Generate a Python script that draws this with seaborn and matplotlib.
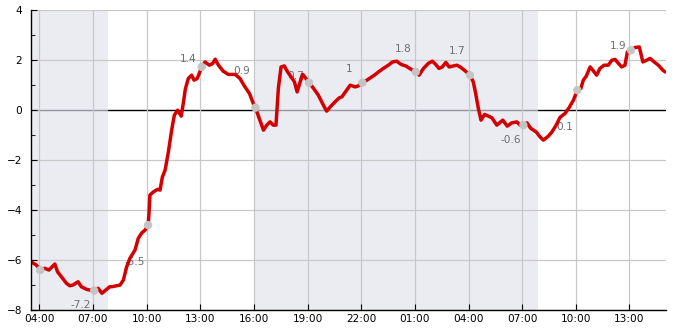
import matplotlib
matplotlib.use("Agg")
import matplotlib.pyplot as plt
import matplotlib.dates as mdates
from matplotlib.ticker import MultipleLocator
import seaborn as sns
import pandas as pd

# ---- data ----
times = [
    "2024-03-01 03:32", "2024-03-01 03:50", "2024-03-01 04:03", "2024-03-01 04:18", "2024-03-01 04:32",
    "2024-03-01 04:38", "2024-03-01 04:52", "2024-03-01 05:01", "2024-03-01 05:14", "2024-03-01 05:31",
    "2024-03-01 05:42", "2024-03-01 05:53", "2024-03-01 06:10", "2024-03-01 06:21", "2024-03-01 06:38",
    "2024-03-01 06:49", "2024-03-01 07:04", "2024-03-01 07:17", "2024-03-01 07:30", "2024-03-01 07:40",
    "2024-03-01 07:56", "2024-03-01 08:03", "2024-03-01 08:31", "2024-03-01 08:42", "2024-03-01 08:53",
    "2024-03-01 09:04", "2024-03-01 09:21", "2024-03-01 09:32", "2024-03-01 09:44", "2024-03-01 09:55",
    "2024-03-01 10:05", "2024-03-01 10:08", "2024-03-01 10:11", "2024-03-01 10:23", "2024-03-01 10:37",
    "2024-03-01 10:45", "2024-03-01 10:53", "2024-03-01 11:02", "2024-03-01 11:13", "2024-03-01 11:24",
    "2024-03-01 11:33", "2024-03-01 11:44", "2024-03-01 11:56", "2024-03-01 12:03", "2024-03-01 12:10",
    "2024-03-01 12:20", "2024-03-01 12:31", "2024-03-01 12:39", "2024-03-01 12:50", "2024-03-01 13:05",
    "2024-03-01 13:16", "2024-03-01 13:30", "2024-03-01 13:42", "2024-03-01 13:50", "2024-03-01 14:01",
    "2024-03-01 14:17", "2024-03-01 14:34", "2024-03-01 14:57", "2024-03-01 15:13", "2024-03-01 15:30",
    "2024-03-01 15:45", "2024-03-01 16:00", "2024-03-01 16:05", "2024-03-01 16:22", "2024-03-01 16:32",
    "2024-03-01 16:43", "2024-03-01 16:54", "2024-03-01 17:05", "2024-03-01 17:14", "2024-03-01 17:22",
    "2024-03-01 17:31", "2024-03-01 17:42", "2024-03-01 17:53", "2024-03-01 18:05", "2024-03-01 18:16",
    "2024-03-01 18:25", "2024-03-01 18:35", "2024-03-01 18:44", "2024-03-01 18:54", "2024-03-01 19:05",
    "2024-03-01 19:19", "2024-03-01 19:36", "2024-03-01 19:53", "2024-03-01 20:04", "2024-03-01 20:19",
    "2024-03-01 20:32", "2024-03-01 20:46", "2024-03-01 20:55", "2024-03-01 21:11", "2024-03-01 21:23",
    "2024-03-01 21:40", "2024-03-01 21:50", "2024-03-01 22:04", "2024-03-01 22:19", "2024-03-01 22:30",
    "2024-03-01 22:44", "2024-03-01 22:58", "2024-03-01 23:14", "2024-03-01 23:31", "2024-03-01 23:45",
    "2024-03-01 23:59", "2024-03-02 00:14", "2024-03-02 00:29", "2024-03-02 00:47", "2024-03-02 01:03",
    "2024-03-02 01:14", "2024-03-02 01:29", "2024-03-02 01:45", "2024-03-02 01:59", "2024-03-02 02:10",
    "2024-03-02 02:21", "2024-03-02 02:32", "2024-03-02 02:44", "2024-03-02 02:55", "2024-03-02 03:09",
    "2024-03-02 03:21", "2024-03-02 03:32", "2024-03-02 03:46", "2024-03-02 04:05", "2024-03-02 04:16",
    "2024-03-02 04:24", "2024-03-02 04:33", "2024-03-02 04:42", "2024-03-02 04:54", "2024-03-02 05:18",
    "2024-03-02 05:35", "2024-03-02 05:55", "2024-03-02 06:10", "2024-03-02 06:25", "2024-03-02 06:42",
    "2024-03-02 06:53", "2024-03-02 07:04", "2024-03-02 07:16", "2024-03-02 07:29", "2024-03-02 07:47",
    "2024-03-02 08:00", "2024-03-02 08:11", "2024-03-02 08:28", "2024-03-02 08:40", "2024-03-02 08:54",
    "2024-03-02 09:07", "2024-03-02 09:24", "2024-03-02 09:38", "2024-03-02 09:52", "2024-03-02 10:05",
    "2024-03-02 10:17", "2024-03-02 10:25", "2024-03-02 10:35", "2024-03-02 10:48", "2024-03-02 10:57",
    "2024-03-02 11:10", "2024-03-02 11:21", "2024-03-02 11:35", "2024-03-02 11:49", "2024-03-02 12:01",
    "2024-03-02 12:12", "2024-03-02 12:23", "2024-03-02 12:34", "2024-03-02 12:45", "2024-03-02 12:53",
    "2024-03-02 13:05", "2024-03-02 13:19", "2024-03-02 13:33", "2024-03-02 13:45", "2024-03-02 13:58",
    "2024-03-02 14:09", "2024-03-02 14:23", "2024-03-02 14:37", "2024-03-02 14:52", "2024-03-02 15:00",
]
values = [
    -6.07, -6.2, -6.4, -6.33, -6.4,
    -6.33, -6.16, -6.47, -6.67, -6.93,
    -7.03, -7.0, -6.87, -7.07, -7.17,
    -7.2, -7.22, -7.13, -7.33, -7.23,
    -7.07, -7.07, -7.0, -6.8, -6.27,
    -5.93, -5.6, -5.13, -4.91, -4.8,
    -4.6, -4.13, -3.4, -3.27, -3.17,
    -3.2, -2.67, -2.4, -1.67, -0.8,
    -0.2, 0.0, -0.24, 0.27, 0.85,
    1.27, 1.4, 1.2, 1.27, 1.73,
    1.93, 1.8, 1.87, 2.04, 1.8,
    1.56, 1.43, 1.43, 1.27, 0.93,
    0.67, 0.2, 0.1, -0.47, -0.8,
    -0.6, -0.47, -0.6, -0.6, 0.87,
    1.73, 1.77, 1.53, 1.33, 1.13,
    0.73, 1.13, 1.43, 1.27, 1.1,
    0.89, 0.6, 0.2, -0.04, 0.17,
    0.33, 0.49, 0.53, 0.8, 1.0,
    0.93, 0.97, 1.1, 1.2, 1.29,
    1.4, 1.53, 1.67, 1.8, 1.93,
    1.96, 1.83, 1.77, 1.64, 1.53,
    1.4, 1.67, 1.87, 1.96, 1.83,
    1.67, 1.73, 1.91, 1.73, 1.77,
    1.8, 1.73, 1.6, 1.4, 1.13,
    0.67, 0.07, -0.4, -0.17, -0.3,
    -0.6, -0.4, -0.64, -0.51, -0.47,
    -0.6, -0.6, -0.51, -0.73, -0.87,
    -1.07, -1.2, -1.04, -0.87, -0.6,
    -0.29, -0.13, 0.11, 0.4, 0.8,
    0.87, 1.2, 1.36, 1.73, 1.6,
    1.4, 1.67, 1.8, 1.8, 2.0,
    2.03, 1.87, 1.73, 1.8, 2.33,
    2.4, 2.51, 2.53, 1.93, 2.0,
    2.07, 1.93, 1.8, 1.6, 1.53,
]

marker_times = [
    "2024-03-01 04:03", "2024-03-01 07:04", "2024-03-01 10:05", "2024-03-01 13:05",
    "2024-03-01 16:05", "2024-03-01 19:05", "2024-03-01 22:04", "2024-03-02 01:03",
    "2024-03-02 04:05", "2024-03-02 07:04", "2024-03-02 10:05", "2024-03-02 13:05",
]
marker_values = [-6.4, -7.22, -4.6, 1.73, 0.1, 1.1, 1.1, 1.53, 1.4, -0.6, 0.8, 2.4]

label_texts = ["-7.2", "-5.5", "1.4", "0.9", "0.7", "1", "1.8", "1.7", "-0.6", "0.1", "1.9"]
label_times = [
    "2024-03-01 06:20", "2024-03-01 09:21", "2024-03-01 12:19", "2024-03-01 15:20",
    "2024-03-01 18:21", "2024-03-01 21:19", "2024-03-02 00:20", "2024-03-02 03:22",
    "2024-03-02 06:20", "2024-03-02 09:24", "2024-03-02 12:22",
]
label_values = [-7.8, -6.08, 2.04, 1.56, 1.36, 1.64, 2.44, 2.36, -1.2, -0.68, 2.56]

night_start = ["2024-02-29 16:00", "2024-03-01 16:00"]
night_end = ["2024-03-01 07:52", "2024-03-02 07:52"]

x_start = "2024-03-01 03:31"
x_end = "2024-03-02 15:02"

# ---- plotting ----
sns.set_style("ticks")
plt.rcParams["font.family"] = ["DejaVu Sans"]

df = pd.DataFrame({"time": pd.to_datetime(times), "value": values})
dm = pd.DataFrame({"time": pd.to_datetime(marker_times), "value": marker_values})

fig = plt.figure(figsize=(6.85, 3.30), dpi=100)
ax = fig.add_axes([0.0448, 0.0606, 0.9272, 0.9084])

sns.lineplot(data=df, x="time", y="value", ax=ax, color="#d40000", lw=2.5,
             zorder=3)
sns.scatterplot(data=dm, x="time", y="value", ax=ax, color="#c4c4c4", s=36,
                edgecolor="none", zorder=4)

ax.set_xlim(pd.Timestamp(x_start), pd.Timestamp(x_end))
ax.set_ylim(-8, 4)
ax.yaxis.set_major_locator(MultipleLocator(2))
ax.yaxis.set_minor_locator(MultipleLocator(1))
ax.xaxis.set_major_locator(mdates.HourLocator(byhour=[1, 4, 7, 10, 13, 16, 19, 22]))
ax.xaxis.set_major_formatter(mdates.DateFormatter("%H:%M"))
ax.set_xlabel("")
ax.set_ylabel("")
ax.grid(False)

# background layers: zero line, night shading, then grid lines on top
ax.axhline(0, color="black", lw=1.0, zorder=0.35)
for s, e in zip(night_start, night_end):
    ax.axvspan(pd.Timestamp(s), pd.Timestamp(e), color="#e1e1ec", alpha=0.66,
               lw=0, zorder=0.4)
for yv in ax.get_yticks():
    if yv != 0 and -8 <= yv <= 4:
        ax.axhline(yv, color="#c8c8c8", lw=0.9, zorder=0.5)
for xv in ax.get_xticks():
    ax.axvline(xv, color="#c8c8c8", lw=0.9, zorder=0.5)

for t, txt, v in zip(label_times, label_texts, label_values):
    ax.text(pd.Timestamp(t), v, txt, ha="center", va="center", fontsize=7.6,
            color="#6e6e6e", zorder=1)

ax.set_xlim(pd.Timestamp(x_start), pd.Timestamp(x_end))
ax.set_ylim(-8, 4)

ax.tick_params(axis="both", which="major", direction="in", length=4, width=0.8,
               labelsize=7.6, colors="black")
ax.tick_params(axis="y", which="major", pad=6)
ax.tick_params(axis="x", which="major", pad=3)
ax.tick_params(axis="y", which="minor", direction="in", length=3, width=0.8)

for side in ["top", "right"]:
    ax.spines[side].set_visible(False)
for side in ["left", "bottom"]:
    ax.spines[side].set_color("black")
    ax.spines[side].set_linewidth(1.0)
    ax.spines[side].set_zorder(5)

fig.savefig("out.png", dpi=100)
